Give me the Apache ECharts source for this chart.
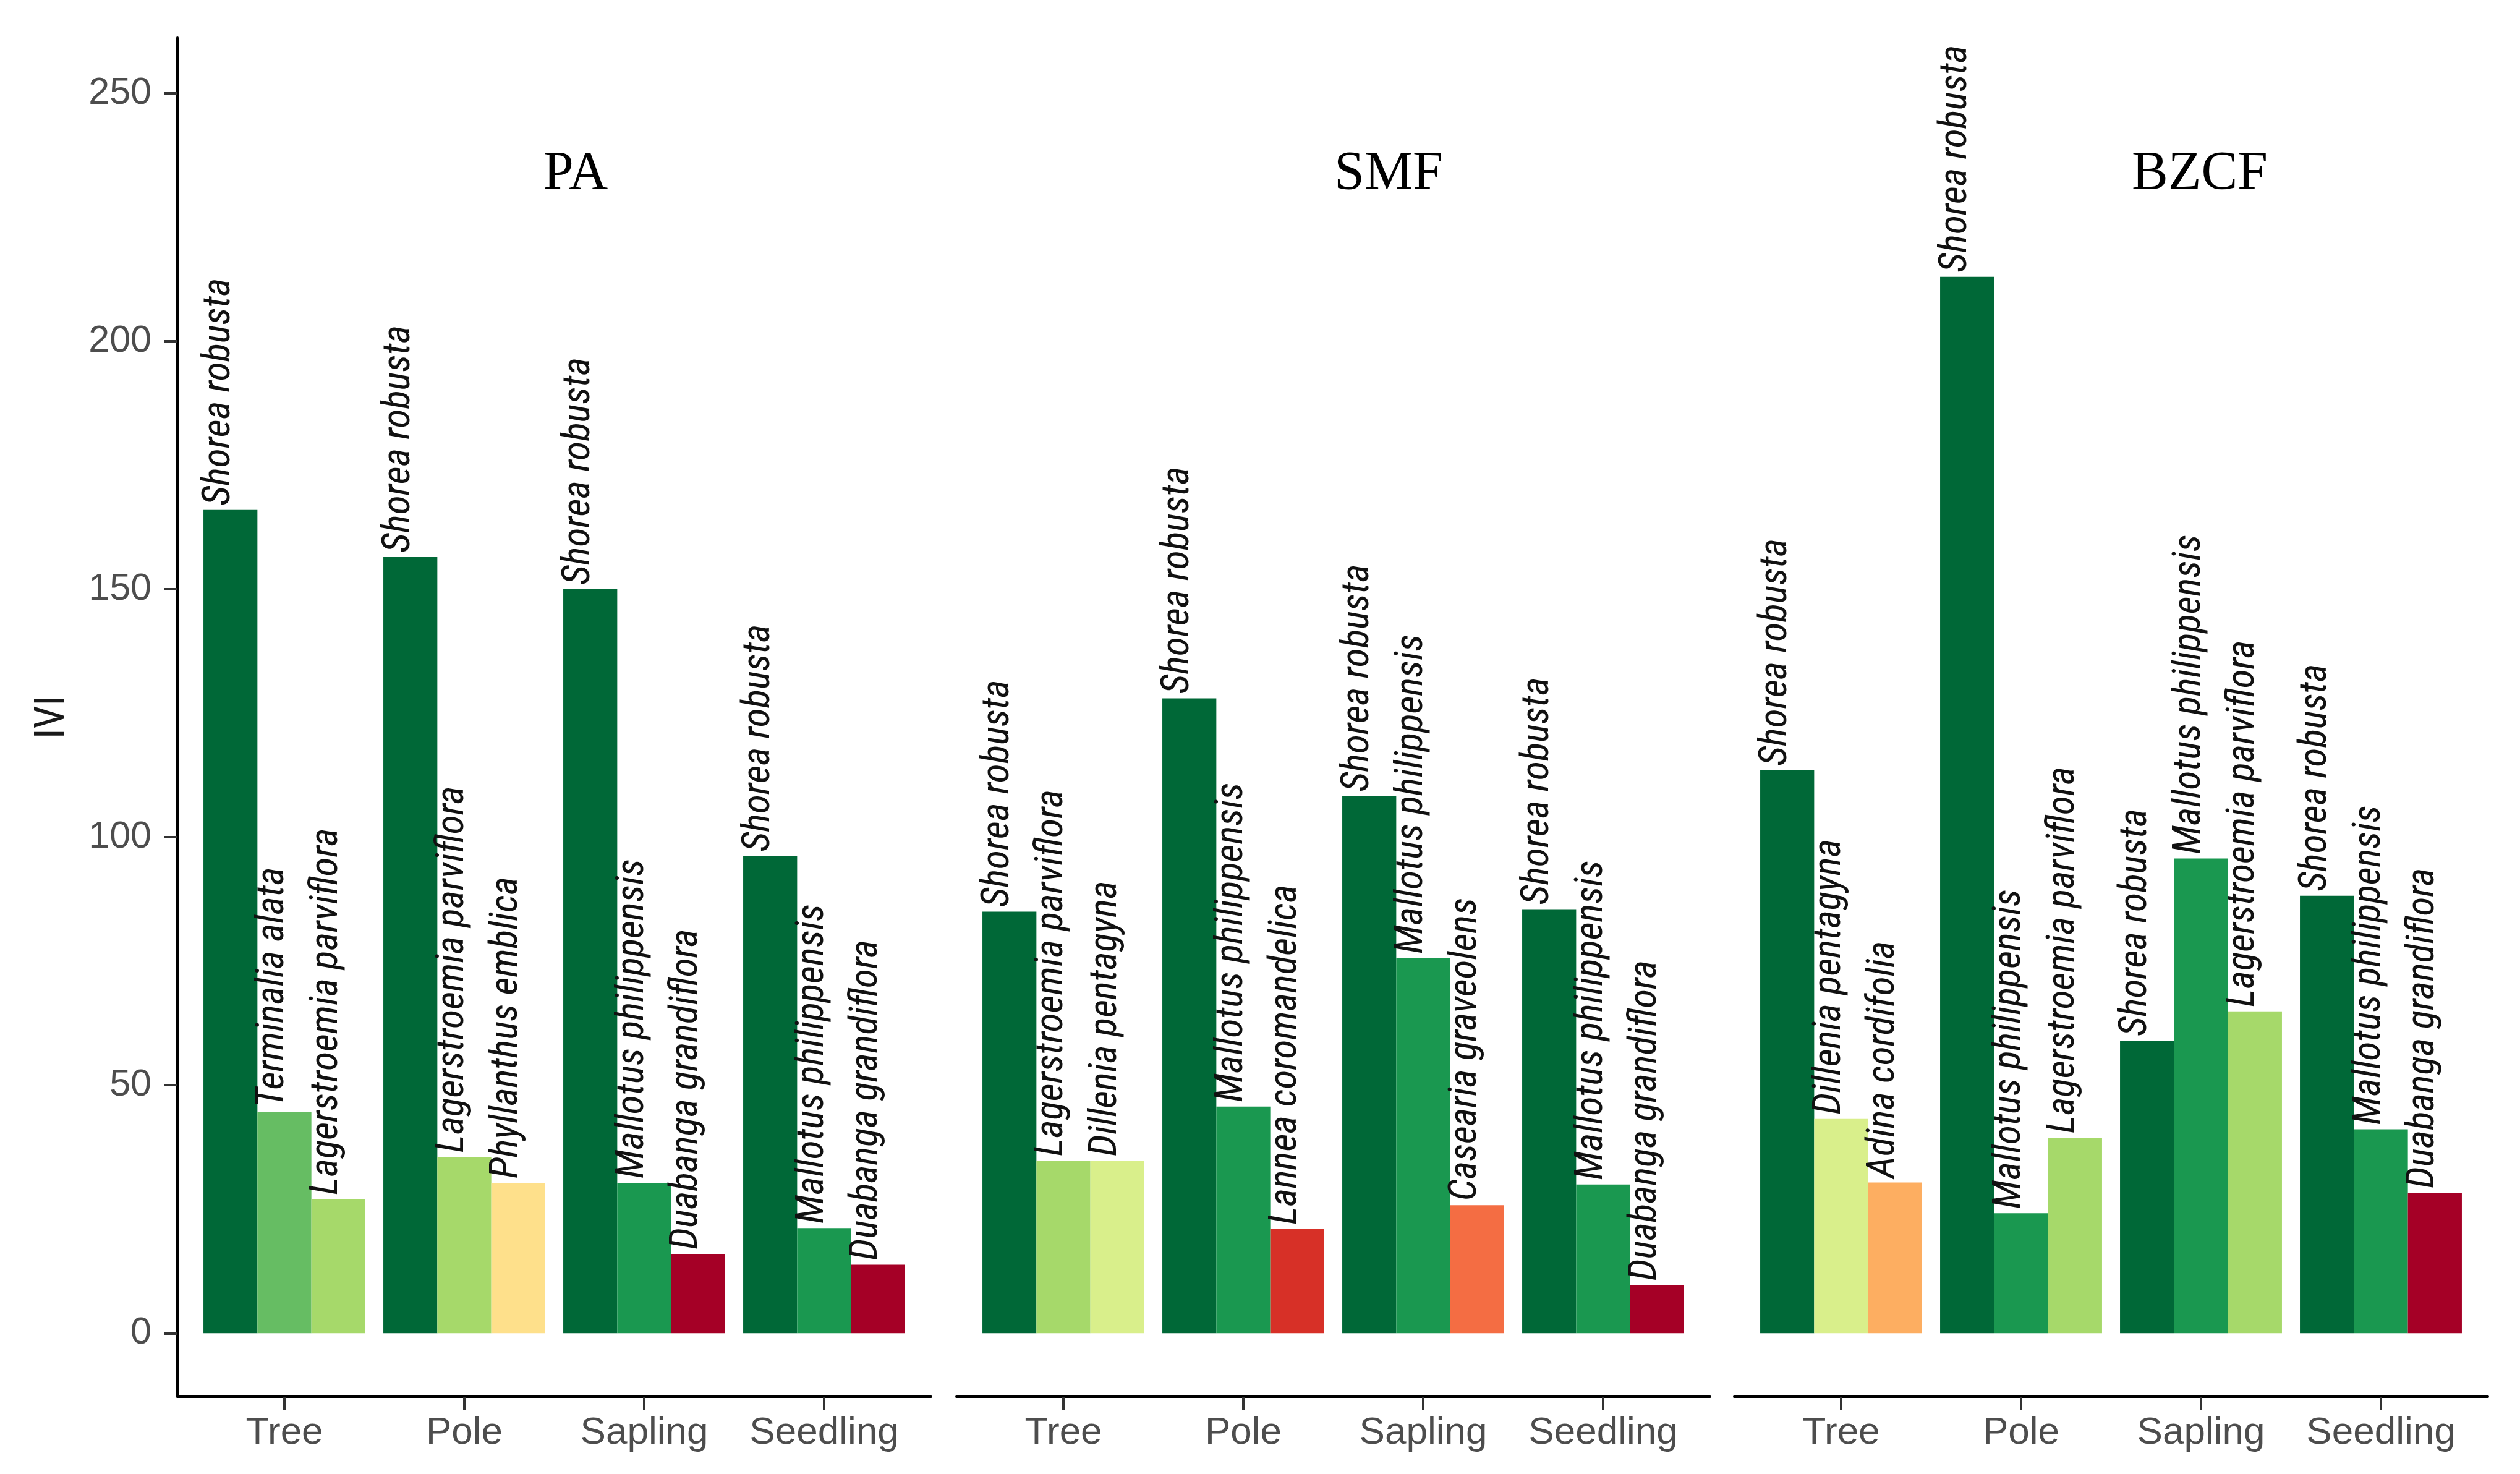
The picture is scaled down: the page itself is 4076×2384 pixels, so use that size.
<!DOCTYPE html>
<html><head><meta charset="utf-8">
<script src="https://cdn.jsdelivr.net/npm/echarts@6/dist/echarts.min.js"></script>
<style>html,body{margin:0;padding:0;background:#fff}#chart{width:4076px;height:2384px}</style>
</head><body><div id="chart"></div>
<script>
// ---------------- data ----------------
const sites = ['PA', 'SMF', 'BZCF'];
const stages = ['Tree', 'Pole', 'Sapling', 'Seedling'];
const yTicks = [0, 50, 100, 150, 200, 250];

const paSpecies = [
  ['Shorea robusta', 'Terminalia alata', 'Lagerstroemia parviflora'],
  ['Shorea robusta', 'Lagerstroemia parviflora', 'Phyllanthus emblica'],
  ['Shorea robusta', 'Mallotus philippensis', 'Duabanga grandiflora'],
  ['Shorea robusta', 'Mallotus philippensis', 'Duabanga grandiflora']
];
const paValues = [[166.0, 44.6, 27.0], [156.5, 35.5, 30.3], [150.0, 30.3, 16.0], [96.2, 21.2, 13.8]];

const smfSpecies = [
  ['Shorea robusta', 'Lagerstroemia parviflora', 'Dillenia pentagyna'],
  ['Shorea robusta', 'Mallotus philippensis', 'Lannea coromandelica'],
  ['Shorea robusta', 'Mallotus philippensis', 'Casearia graveolens'],
  ['Shorea robusta', 'Mallotus philippensis', 'Duabanga grandiflora']
];
const smfValues = [[85.0, 34.8, 34.8], [128.0, 45.7, 21.0], [108.3, 75.6, 25.8], [85.5, 30.0, 9.7]];

const bzcfSpecies = [
  ['Shorea robusta', 'Dillenia pentagyna', 'Adina cordifolia'],
  ['Shorea robusta', 'Mallotus philippensis', 'Lagerstroemia parviflora'],
  ['Shorea robusta', 'Mallotus philippensis', 'Lagerstroemia parviflora'],
  ['Shorea robusta', 'Mallotus philippensis', 'Duabanga grandiflora']
];
const bzcfValues = [[113.5, 43.2, 30.4], [213.0, 24.2, 39.4], [59.0, 95.7, 64.9], [88.2, 41.1, 28.3]];

// ---------------- styling ----------------
const speciesColor = {
  'Shorea robusta': '#006837',
  'Mallotus philippensis': '#1a9850',
  'Terminalia alata': '#66bd63',
  'Lagerstroemia parviflora': '#a6d96a',
  'Dillenia pentagyna': '#d9ef8b',
  'Phyllanthus emblica': '#fee08b',
  'Adina cordifolia': '#fdae61',
  'Casearia graveolens': '#f46d43',
  'Lannea coromandelica': '#d73027',
  'Duabanga grandiflora': '#a50026'
};

function hasFont(name) {
  const c = document.createElement('canvas').getContext('2d');
  c.font = '100px monospace';
  const w1 = c.measureText('Shorea robusta mmm iii').width;
  c.font = '100px "' + name + '", monospace';
  const w2 = c.measureText('Shorea robusta mmm iii').width;
  c.font = '100px serif';
  const w3 = c.measureText('Shorea robusta mmm iii').width;
  c.font = '100px "' + name + '", serif';
  const w4 = c.measureText('Shorea robusta mmm iii').width;
  return Math.abs(w1 - w2) > 0.5 && Math.abs(w3 - w4) > 0.5;
}
const narrowCandidates = ['Liberation Sans Narrow', 'Roboto Condensed', 'DejaVu Sans Condensed', 'Liberation Sans'];
let narrowName = 'Liberation Sans';
for (const n of narrowCandidates) { if (hasFont(n)) { narrowName = n; break; } }
const rotFamily = '"' + narrowName + '", "Liberation Sans", sans-serif';
function sizeFor(text, targetLen, italic) {
  const c = document.createElement('canvas').getContext('2d');
  c.font = (italic ? 'italic ' : '') + '100px ' + rotFamily;
  return 100 * targetLen / c.measureText(text).width;
}
const labelSize = sizeFor('Shorea robusta', 368, true);
const titleSize = sizeFor('IVI', 70, false);

const yMin = -12.8, yMax = 261.2;
const gridTop = 61, gridBottom = 125;
const panelLeft = [287, 1547, 2805];
const panelWidth = 1219;
const innerWidth = 1164;
const titleX = [931, 2246, 3558];

const allSpecies = [paSpecies, smfSpecies, bzcfSpecies];
const allValues = [paValues, smfValues, bzcfValues];

const grids = [], xAxes = [], yAxes = [], series = [], graphics = [];
sites.forEach((site, i) => {
  const center = panelLeft[i] + panelWidth / 2;
  grids.push({ left: panelLeft[i], width: panelWidth, top: gridTop, bottom: gridBottom, outerBoundsMode: 'none', containLabel: false });
  grids.push({ left: center - innerWidth / 2, width: innerWidth, top: gridTop, bottom: gridBottom, outerBoundsMode: 'none', containLabel: false });
  xAxes.push({
    type: 'value', gridIndex: 2 * i, min: 0, max: 1,
    axisLine: { show: true, onZero: false, lineStyle: { color: '#000', width: 4 } },
    axisTick: { show: false }, axisLabel: { show: false }, splitLine: { show: false }
  });
  xAxes.push({
    type: 'category', gridIndex: 2 * i + 1, data: stages,
    axisLine: { show: false, onZero: false },
    axisTick: { show: true, alignWithLabel: true, length: 22, lineStyle: { color: '#333', width: 4 } },
    axisLabel: { show: true, interval: 0, fontSize: 62, color: '#4d4d4d', margin: 28, fontFamily: '"Liberation Sans", Arial, sans-serif' },
    splitLine: { show: false }
  });
  if (i === 0) {
    yAxes.push({
      type: 'value', gridIndex: 0, min: yMin, max: yMax,
      axisLine: { show: true, lineStyle: { color: '#000', width: 4 } },
      axisTick: { show: true, customValues: yTicks, length: 22, lineStyle: { color: '#333', width: 4 } },
      axisLabel: { show: true, customValues: yTicks, fontSize: 61, color: '#4d4d4d', margin: 42, fontFamily: '"Liberation Sans", Arial, sans-serif' },
      splitLine: { show: false },
      name: 'IVI', nameLocation: 'middle', nameRotate: 90, nameGap: 168,
      nameTextStyle: { fontSize: titleSize, color: '#1a1a1a', fontFamily: rotFamily }
    });
  } else {
    yAxes.push({ type: 'value', gridIndex: 2 * i, min: yMin, max: yMax, show: false });
  }
  yAxes.push({ type: 'value', gridIndex: 2 * i + 1, min: yMin, max: yMax, show: false });

  for (let r = 0; r < 3; r++) {
    series.push({
      type: 'bar', name: site + ' rank ' + (r + 1),
      xAxisIndex: 2 * i + 1, yAxisIndex: 2 * i + 1,
      barGap: '0%', barCategoryGap: '10%',
      data: stages.map((s, k) => ({
        value: allValues[i][k][r],
        species: allSpecies[i][k][r],
        itemStyle: { color: speciesColor[allSpecies[i][k][r]] }
      })),
      label: {
        show: true, position: 'top', rotate: 90, align: 'left', verticalAlign: 'middle',
        distance: 7, offset: [0, -18],
        formatter: p => p.data.species,
        fontStyle: 'italic', fontSize: labelSize, color: '#111', fontFamily: rotFamily
      },
      z: 2, silent: true, animation: false
    });
  }
  graphics.push({
    type: 'text', x: titleX[i], y: 282,
    style: { text: site, align: 'center', verticalAlign: 'middle', font: '88px "Liberation Serif", "Times New Roman", serif', fill: '#000' }
  });
});

const chart = echarts.init(document.getElementById('chart'), null, { renderer: 'canvas' });
chart.setOption({
  backgroundColor: '#fff',
  animation: false,
  grid: grids, xAxis: xAxes, yAxis: yAxes, series: series,
  graphic: graphics
});
</script></body></html>
